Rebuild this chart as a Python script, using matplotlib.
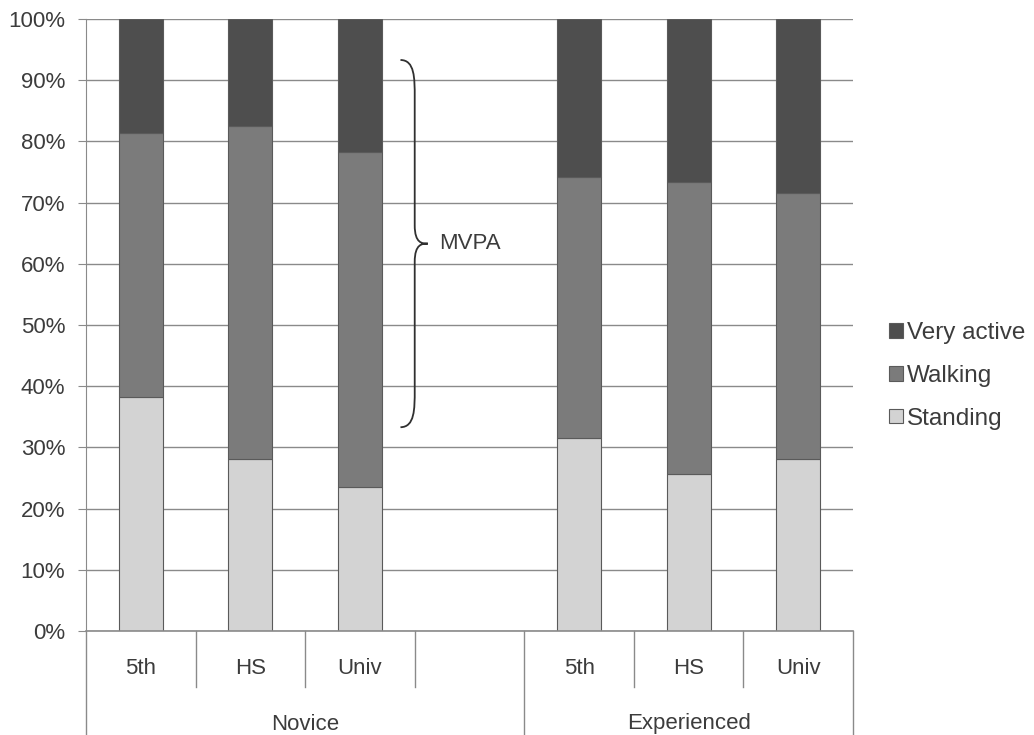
import numpy as np
import matplotlib
matplotlib.use('Agg')
import matplotlib.pyplot as plt
from matplotlib.path import Path
from matplotlib.patches import PathPatch
from matplotlib.ticker import PercentFormatter

levels = ['5th', 'HS', 'Univ', '', '5th', 'HS', 'Univ']
groups = ['Novice', 'Experienced']
group_sizes = [4, 3]
standing = [38.2, 28.1, 23.5, np.nan, 31.5, 25.7, 28.1]
walking = [43.2, 54.4, 54.8, np.nan, 42.7, 47.7, 43.5]
very_active = [18.6, 17.5, 21.7, np.nan, 25.8, 26.6, 28.4]
mvpa_span = (33.3, 93.3)

plt.rcParams['font.family'] = ['Liberation Sans', 'DejaVu Sans']
txt = '#3c3c3c'
grid = '#8a8a8a'

fig = plt.figure(figsize=(10.34, 7.35), dpi=100)
ax = fig.add_axes([86 / 1034, 1 - 631 / 735, (853 - 86) / 1034, (631 - 19) / 735])

x = np.arange(len(levels))
has = ~np.isnan(np.array(standing))
s = np.array(standing)[has]
w = np.array(walking)[has]
v = np.array(very_active)[has]
xb = x[has]
kw = dict(width=0.4, edgecolor='#5a5a5a', linewidth=0.8, zorder=3)
b1 = ax.bar(xb, s, color='#d3d3d3', label='Standing', **kw)
b2 = ax.bar(xb, w, bottom=s, color='#7b7b7b', label='Walking', **kw)
b3 = ax.bar(xb, v, bottom=s + w, color='#4e4e4e', label='Very active', **kw)

ax.set_xlim(-0.5, len(levels) - 0.5)
ax.set_ylim(0, 100)
ax.set_yticks(np.arange(0, 101, 10))
ax.yaxis.set_major_formatter(PercentFormatter(decimals=0))
ax.tick_params(axis='y', length=6, color=grid, labelsize=16, labelcolor=txt, pad=9)
ax.set_xticks([])
ax.yaxis.grid(True, color=grid, linewidth=1)
ax.set_axisbelow(True)
for sp in ['top', 'right', 'bottom']:
    ax.spines[sp].set_visible(False)
ax.spines['left'].set_color(grid)
ax.axhline(0, color=grid, linewidth=1.2, zorder=4, clip_on=False)

# two-level category axis
tr = ax.get_xaxis_transform()
short_y = -56 / 612
long_y = -106 / 612
bounds = np.cumsum([0] + group_sizes) - 0.5
for b in np.arange(len(levels) + 1) - 0.5:
    y_end = long_y if np.any(np.isclose(bounds, b)) else short_y
    ax.plot([b, b], [0, y_end], transform=tr, color=grid, linewidth=1, clip_on=False)
for xi, lab in zip(x, levels):
    ax.text(xi, -37 / 612, lab, transform=tr, ha='center', va='center',
            fontsize=16, color=txt)
for g, lo, hi in zip(groups, bounds[:-1], bounds[1:]):
    ax.text((lo + hi) / 2, -93 / 612, g, transform=tr, ha='center', va='center',
            fontsize=16, color=txt)

# MVPA brace
lo, hi = mvpa_span
mid = (lo + hi) / 2
xe, xs, xt = 2.37, 2.5, 2.62
verts = [(xe, hi), (xs, hi), (xs, hi - 3), (xs, hi - 6),
         (xs, mid + 3),
         (xs, mid), (xt - 0.05, mid), (xt, mid),
         (xt - 0.05, mid), (xs, mid), (xs, mid - 3),
         (xs, lo + 6),
         (xs, lo + 3), (xs, lo), (xe, lo)]
codes = [Path.MOVETO, Path.CURVE4, Path.CURVE4, Path.CURVE4,
         Path.LINETO,
         Path.CURVE4, Path.CURVE4, Path.CURVE4,
         Path.CURVE4, Path.CURVE4, Path.CURVE4,
         Path.LINETO,
         Path.CURVE4, Path.CURVE4, Path.CURVE4]
ax.add_patch(PathPatch(Path(verts, codes), facecolor='none', edgecolor='#303030',
                       linewidth=1.3, zorder=5, clip_on=False))
ax.text(2.72, mid, 'MVPA', ha='left', va='center', fontsize=16, color=txt, zorder=5)

fig.legend(handles=[b3, b2, b1], labels=['Very active', 'Walking', 'Standing'],
           loc='center left', bbox_to_anchor=(877 / 1034, 1 - 376 / 735),
           frameon=False, fontsize=17.5, handlelength=0.55, handleheight=0.55,
           handletextpad=0.2, labelspacing=0.85, borderpad=0, labelcolor=txt)

fig.savefig('out.png', dpi=100, facecolor='white')
